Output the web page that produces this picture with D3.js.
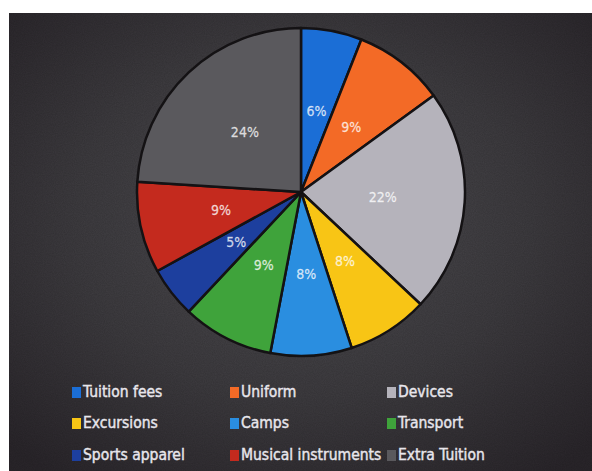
<!DOCTYPE html>
<html>
<head>
<meta charset="utf-8">
<script src="https://cdn.jsdelivr.net/npm/d3@7/dist/d3.min.js"></script>
<style>
  html, body { margin: 0; padding: 0; background: #ffffff; }
  svg { display: block; }
</style>
</head>
<body>
<svg id="chart" width="592" height="471"></svg>
<script>
const categories = ["Tuition fees", "Uniform", "Devices", "Excursions", "Camps", "Transport", "Sports apparel", "Musical instruments", "Extra Tuition"];
const values = [6, 9, 22, 8, 8, 9, 5, 9, 24];
const labels = ["6%", "9%", "22%", "8%", "8%", "9%", "5%", "9%", "24%"];
const colors = ["#1b6ed6", "#f36a26", "#b5b3bb", "#f8c515", "#2a8ee0", "#3fa33b", "#1d3f9e", "#c42a1e", "#5a595d"];

const svg = d3.select("#chart");
const W = 592, H = 471;

const defs = svg.append("defs");
const grad = defs.append("radialGradient").attr("id", "bg")
  .attr("cx", "50%").attr("cy", "45%").attr("r", "70%");
grad.append("stop").attr("offset", "0%").attr("stop-color", "#4e4d51");
grad.append("stop").attr("offset", "55%").attr("stop-color", "#3e3c40");
grad.append("stop").attr("offset", "100%").attr("stop-color", "#2a262b");

const noise = defs.append("filter").attr("id", "noise").attr("x", 0).attr("y", 0).attr("width", "100%").attr("height", "100%");
noise.append("feTurbulence").attr("type", "fractalNoise").attr("baseFrequency", 0.9).attr("numOctaves", 2).attr("seed", 3).attr("result", "t");
noise.append("feColorMatrix").attr("in", "t").attr("type", "matrix")
  .attr("values", "0 0 0 0 0  0 0 0 0 0  0 0 0 0 0  0 0 0 0.18 0").attr("result", "n");
noise.append("feComposite").attr("in", "n").attr("in2", "SourceGraphic").attr("operator", "in");

svg.append("rect").attr("x", 0).attr("y", 0).attr("width", W).attr("height", H).attr("fill", "#ffffff");
svg.append("rect").attr("x", 9).attr("y", 13).attr("width", W - 9).attr("height", H - 13).attr("fill", "url(#bg)");
svg.append("rect").attr("x", 9).attr("y", 13).attr("width", W - 9).attr("height", H - 13).attr("fill", "#000").attr("filter", "url(#noise)");

const cx = 301, cy = 192, R = 164;
const data = categories.map((c, i) => ({ name: c, value: values[i], label: labels[i], color: colors[i] }));
const pie = d3.pie().value(d => d.value).sort(null);
const arcs = pie(data);
const arc = d3.arc().innerRadius(0).outerRadius(R);
const labelArc = d3.arc().innerRadius(R * 0.5).outerRadius(R * 0.5);

const g = svg.append("g").attr("transform", `translate(${cx},${cy})`);
g.selectAll("path.slice").data(arcs).join("path")
  .attr("class", "slice")
  .attr("d", arc)
  .attr("fill", d => d.data.color)
  .attr("stroke", "#141214")
  .attr("stroke-width", 2.5)
  .attr("stroke-linejoin", "round");

g.selectAll("text.pct").data(arcs).join("text")
  .attr("class", "pct")
  .attr("transform", d => `translate(${labelArc.centroid(d)})`)
  .attr("text-anchor", "middle")
  .attr("dominant-baseline", "central")
  .attr("font-family", "'DejaVu Sans Condensed', 'DejaVu Sans', sans-serif")
  .attr("font-size", 14)
  .attr("fill", "#ffffff")
  .attr("fill-opacity", 0.75)
  .attr("stroke", "#ffffff")
  .attr("stroke-opacity", 0.6)
  .attr("stroke-width", 0.3)
  .text(d => d.data.label);

const colX = [72, 230, 387];
const rowY = [392, 423, 455];
const leg = svg.append("g");
data.forEach((d, i) => {
  const col = i % 3, row = Math.floor(i / 3);
  const x = colX[col], y = rowY[row];
  leg.append("rect").attr("x", x).attr("y", y - 5).attr("width", 9).attr("height", 11).attr("fill", d.color);
  leg.append("text").attr("x", x + 11).attr("y", y)
    .attr("dominant-baseline", "central")
    .attr("font-family", "'DejaVu Sans Condensed', 'DejaVu Sans', sans-serif")
    .attr("font-size", 15.5)
    .attr("fill", "#e8e6ec")
    .attr("stroke", "#e8e6ec")
    .attr("stroke-width", 0.4)
    .text(d.name);
});
</script>
</body>
</html>
